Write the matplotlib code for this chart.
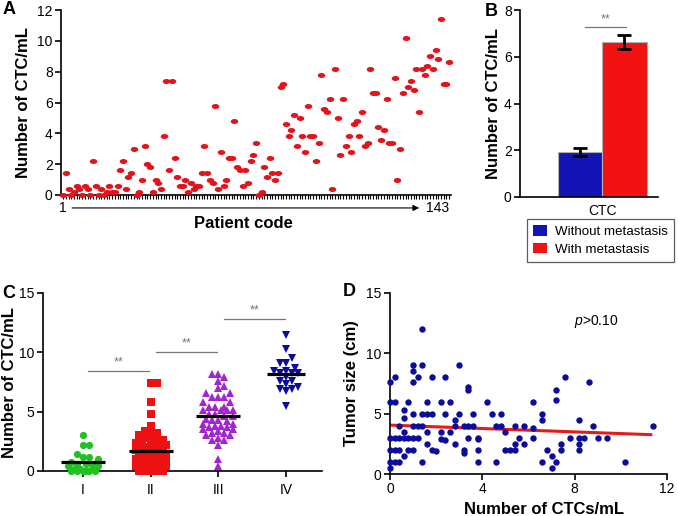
import numpy as np
import matplotlib
matplotlib.use('Agg')
import matplotlib.pyplot as plt
from matplotlib.path import Path
from matplotlib.transforms import Affine2D, blended_transform_factory
from matplotlib.patches import Patch

plt.rcParams['font.family'] = ['Liberation Sans', 'DejaVu Sans']
plt.rcParams['mathtext.fontset'] = 'custom'
plt.rcParams['mathtext.it'] = 'Liberation Sans:italic'
plt.rcParams['mathtext.rm'] = 'Liberation Sans'

# ---------------- data ----------------
# Panel A: CTC count per patient (patients 1..143)
ctc_by_patient = [
    0, 1.4, 0.4, 0, 0.2, 0.6, 0.4, 0, 0.6, 0.4,
    0, 2.2, 0.6, 0, 0.4, 0, 0.2, 0.6, 0.2, 0.2,
    0.6, 1.6, 2.2, 0.4, 1.2, 1.4, 3.0, 0, 0.2, 1.0,
    3.2, 2.0, 1.8, 0.2, 1.0, 0.8, 0.4, 3.8, 7.4, 1.6,
    7.4, 2.4, 1.2, 0.6, 0.6, 1.0, 0.2, 0.8, 0.4, 0.6,
    0.6, 1.4, 3.2, 1.4, 1.0, 0.8, 5.8, 0.4, 2.8, 0.6,
    1.0, 2.4, 2.4, 4.8, 1.8, 1.6, 0.6, 1.6, 0.8, 2.2,
    2.6, 3.4, 0, 0.2, 1.8, 1.2, 2.4, 1.4, 1.0, 1.4,
    7.0, 7.2, 4.6, 3.8, 4.2, 5.2, 3.2, 5.0, 3.8, 2.8,
    5.8, 3.8, 3.8, 2.2, 3.4, 7.8, 5.6, 5.4, 6.2, 0.4,
    8.2, 5.0, 2.6, 6.2, 3.2, 3.8, 2.8, 4.6, 4.8, 3.8,
    5.4, 3.2, 3.4, 8.2, 6.6, 6.6, 4.4, 3.6, 4.2, 6.2,
    3.4, 3.4, 7.6, 1.0, 3.0, 6.6, 10.2, 7.0, 7.4, 6.8,
    8.2, 5.4, 8.2, 7.8, 8.4, 9.0, 8.2, 9.4, 8.8, 11.4,
    7.2, 7.2, 8.6]
patient_first, patient_last = 1, 143

# Panel B
met_groups = ['Without metastasis', 'With metastasis']
met_mean = [1.93, 6.63]
met_sem = [0.17, 0.30]
met_category = 'CTC'

# Panel C
stage_labels = ['I', 'II', 'III', 'IV']
stage_I = [3.0, 2.2, 2.2, 1.4, 1.2, 1.2, 1.0, 0.8, 0.6, 0.6, 0.6,
           0.4, 0.4, 0.2, 0.2, 0.2, 0, 0, 0, 0, 0, 0]
stage_II = [7.4, 7.4, 5.8, 4.8, 3.8, 3.4, 3.2, 3.2, 3.0, 2.8, 2.6, 2.6, 2.6,
            2.4, 2.4, 2.2, 2.2, 2.0, 2.0, 1.8, 1.8, 1.6, 1.6, 1.6, 1.4, 1.4,
            1.4, 1.2, 1.2, 1.2, 1.0, 1.0, 1.0, 1.0, 0.8, 0.8, 0.8, 0.6, 0.6,
            0.6, 0.6, 0.4, 0.4, 0.4, 0.4, 0.2, 0.2, 0.2, 0.2, 0, 0, 0, 0, 0]
stage_III = [8.2, 8.2, 7.9, 7.6, 7.2, 7.0, 6.6, 6.6, 6.2, 6.2, 6.2, 5.8, 5.8,
             5.4, 5.4, 5.4, 5.1, 5.1, 5.1, 5.1, 4.8, 4.8, 4.6, 4.6, 4.4, 4.3,
             4.3, 4.2, 4.0, 4.0, 3.8, 3.8, 3.7, 3.7, 3.5, 3.5, 3.4, 3.2, 3.2,
             3.0, 3.0, 2.8, 2.6, 2.6, 2.2, 1.0, 0.4]
stage_IV = [11.5, 10.3, 9.5, 9.1, 9.1, 8.7, 8.4, 8.4, 8.3, 8.3, 8.3, 7.9,
            7.6, 7.6, 7.3, 7.1, 6.9, 6.9, 6.7, 5.5]
sig_pairs = [(1, 2, 8.4), (2, 3, 10.0), (3, 4, 12.8)]

# Panel D
ctc_d = [0, 0.2, 1.2, 1.8, 2.4, 0, 0.2, 0.8, 1.6, 2.2, 2.6, 4.2,
         1.0, 1.4, 3.0, 1.0, 1.0, 1.4, 3.4, 3.4, 0.6,
         1.0, 1.4, 1.6, 1.8, 2.4, 3.0, 3.6, 4.4, 4.8, 0.6, 2.8,
         1.0, 1.2, 1.4, 2.8, 3.2, 3.4, 3.6, 4.6, 4.8, 5.4, 5.8, 0.4,
         0.6, 1.6, 2.2, 2.6, 5.0,
         0, 0.2, 0.4, 0.6, 0.8, 1.0, 1.2, 3.4, 3.8, 5.6, 2.2, 3.8, 2.4,
         1.6, 2.8, 5.4, 5.8,
         0, 0.2, 0.4, 0.8, 1.0, 1.8, 3.2, 3.8, 5.0, 5.2, 5.4, 2.0, 3.2, 0.6,
         0, 0.2, 0.4, 1.4, 3.8, 4.6, 0,
         7.6, 8.6, 7.2, 7.2, 6.2, 6.6, 6.6, 8.2, 8.8, 11.4, 6.2, 6.2,
         7.8, 8.2, 8.4, 9.0, 9.4, 7.4, 8.2, 6.8, 7.4, 8.2, 7.0, 6.6, 7.2,
         10.2, 7.0]
size_d = [7.6, 8.0, 8.0, 8.0, 8.0, 6.0, 6.0, 6.0, 6.0, 6.0, 6.0, 6.0,
          9.0, 9.0, 9.0, 8.5, 7.6, 12.0, 7.2, 7.0, 5.3,
          5.0, 5.0, 5.0, 5.0, 5.0, 5.0, 5.0, 5.0, 5.0, 4.6, 4.5,
          4.0, 4.0, 4.0, 4.0, 4.0, 4.0, 4.0, 4.0, 4.0, 4.0, 4.0, 4.0,
          3.5, 3.5, 3.5, 3.5, 3.5,
          3.0, 3.0, 3.0, 3.0, 3.0, 3.0, 3.0, 3.0, 3.0, 3.0, 2.9, 2.9, 2.8,
          2.5, 2.5, 2.5, 2.5,
          2.0, 2.0, 2.0, 2.0, 2.0, 2.0, 2.0, 2.0, 2.0, 2.0, 2.0, 1.9, 1.7, 1.5,
          1.0, 1.0, 1.0, 1.0, 1.0, 1.0, 0.5,
          8.0, 7.6, 7.0, 6.1, 6.0, 5.0, 4.5, 4.5, 4.0, 4.0, 3.8, 3.0,
          3.0, 3.0, 3.0, 3.0, 3.0, 2.5, 2.5, 2.0, 2.0, 2.0, 1.5, 1.0, 1.0,
          1.0, 0.5]
fit_intercept, fit_slope = 4.05, -0.07
p_text = r'$p$>0.10'

# ---------------- style ----------------
RED_A = '#e3121b'
BLUE_B = '#1414b4'
RED_B = '#f21212'
C_COLORS = ['#22c022', '#ee1111', '#a424cf', '#0c0c9c']
C_MARKERS = ['o', 's', '^', 'v']
D_BLUE = '#0c0c9c'
D_LINE = '#e31b1b'
GRAY = '#777777'
TICK_FS = 10
LABEL_FS = 12
SPINE_LW = 1.2


def style_axes(ax):
    for s in ['top', 'right']:
        ax.spines[s].set_visible(False)
    for s in ['left', 'bottom']:
        ax.spines[s].set_linewidth(SPINE_LW)
    ax.tick_params(direction='out', length=4, width=SPINE_LW,
                   labelsize=TICK_FS, pad=2)


fig = plt.figure(figsize=(6.78, 5.16), dpi=100)

# ---------------- Panel A ----------------
axA = fig.add_axes([61 / 678, 1 - 195 / 516, 390 / 678, 185 / 516])
style_axes(axA)
patients = np.arange(patient_first, patient_last + 1)
ell = Path.unit_circle().transformed(Affine2D().scale(1.5, 1.0))
axA.plot(patients, ctc_by_patient, linestyle='none', marker=ell,
         markersize=5.4, color=RED_A, markeredgewidth=0, clip_on=False,
         zorder=3)
axA.set_xlim(0.2, 143.7)
axA.set_ylim(0, 12)
axA.set_yticks(np.arange(0, 13, 2))
axA.set_xticks(patients)
axA.tick_params(axis='x', length=3, width=0.8, labelbottom=False)
trA = blended_transform_factory(axA.transData, axA.transAxes)
axA.text(patient_first, -0.07, str(patient_first), transform=trA,
         ha='center', va='center', fontsize=TICK_FS)
axA.text(138.6, -0.07, str(patient_last), transform=trA,
         ha='center', va='center', fontsize=TICK_FS)
axA.annotate('', xy=(132.0, -0.07), xytext=(4.3, -0.07), xycoords=trA,
             textcoords=trA,
             arrowprops=dict(arrowstyle='-|>', lw=0.8, color='black',
                             mutation_scale=9, shrinkA=0, shrinkB=0))
axA.set_xlabel('Patient code', fontsize=LABEL_FS, fontweight='bold')
axA.xaxis.set_label_coords(0.467, -0.113)
axA.set_ylabel('Number of CTC/mL', fontsize=LABEL_FS, fontweight='bold')
axA.yaxis.set_label_coords(-0.077, 0.5)

# ---------------- Panel B ----------------
axB = fig.add_axes([520 / 678, 1 - 197 / 516, 138 / 678, 187 / 516])
style_axes(axB)
bx = [-0.5, 0.5]
axB.bar(bx, met_mean, width=1.0, color=[BLUE_B, RED_B], edgecolor='#b0b0b0',
        linewidth=0.8, yerr=met_sem, capsize=4.7,
        error_kw=dict(elinewidth=2, capthick=2, ecolor='black'), zorder=2)
axB.set_xlim(-1.848, 1.253)
axB.set_ylim(0, 8)
axB.set_yticks(np.arange(0, 9, 2))
axB.set_xticks([0])
axB.set_xticklabels([met_category])
axB.tick_params(axis='x', length=0, pad=5)
axB.plot([-0.39, 0.53], [7.27, 7.27], color=GRAY, lw=0.9)
axB.text(0.07, 7.33, '**', ha='center', va='bottom', fontsize=9, color=GRAY)
axB.set_ylabel('Number of CTC/mL', fontsize=LABEL_FS, fontweight='bold')
axB.yaxis.set_label_coords(-0.138, 0.5)

handles = [Patch(facecolor=BLUE_B, edgecolor='none'),
           Patch(facecolor=RED_B, edgecolor='none')]
leg = fig.legend(handles, met_groups, loc='upper left',
                 bbox_to_anchor=(527 / 678, 1 - 219 / 516), fontsize=9.6,
                 frameon=True, fancybox=False, edgecolor='#333333',
                 handlelength=1.05, handleheight=0.85, handletextpad=0.6,
                 borderpad=0.45, labelspacing=0.35, borderaxespad=0)
leg.get_frame().set_linewidth(0.9)

# ---------------- Panel C ----------------
axC = fig.add_axes([43 / 678, 1 - 471 / 516, 279 / 678, 178 / 516])
style_axes(axC)
axC.set_xlim(0.41, 4.53)
axC.set_ylim(0, 15)
axC.set_yticks([0, 5, 10, 15])
axC.set_xticks([1, 2, 3, 4])
axC.set_xticklabels(stage_labels)
axC.tick_params(axis='x', pad=5)
fig.canvas.draw()


def swarm_offsets(ax, xc, vals, d, maxhalf):
    """Beeswarm layout in pixel space, limited to a maximum half-width."""
    pts = ax.transData.transform(np.column_stack([np.full(len(vals), xc),
                                                  vals]))
    ys = pts[:, 1]
    x0 = pts[0, 0]
    order = np.argsort(ys, kind='stable')
    step = d * 0.5
    cands = [0.0]
    m = 1
    while m * step <= maxhalf + 1e-9:
        cands += [m * step, -m * step]
        m += 1
    placed = []
    xs = np.zeros(len(vals))
    for i in order:
        y = ys[i]
        best, best_score = None, -1.0
        for c in cands:
            dmin = min([np.hypot(c - px, y - py) for px, py in placed],
                       default=1e9)
            if dmin >= d:
                best = c
                break
            if dmin > best_score + 1e-6:
                best, best_score = c, dmin
        placed.append((best, y))
        xs[i] = best
    back = ax.transData.inverted().transform(np.column_stack([x0 + xs, ys]))
    ext = ax.transData.inverted().transform(
        [[x0 + xs.min() - 7.0, 0], [x0 + xs.max() + 7.0, 0]])
    return back[:, 0], ext[0, 0], ext[1, 0]


stage_data = [stage_I, stage_II, stage_III, stage_IV]
for k, vals in enumerate(stage_data):
    xc = k + 1
    xs, lo, hi = swarm_offsets(axC, xc, np.array(vals, float), 6.0, 17.0)
    axC.plot(xs, vals, linestyle='none', marker=C_MARKERS[k], markersize=5.2,
             color=C_COLORS[k], markeredgewidth=0, clip_on=False, zorder=3)
    axC.plot([lo, hi], [np.mean(vals)] * 2, color='black', lw=2.3, zorder=4,
             solid_capstyle='butt')
for a, b, h in sig_pairs:
    axC.plot([a + 0.08, b - 0.02], [h, h], color=GRAY, lw=0.9)
    axC.text((a + b) / 2 + 0.03, h + 0.25, '**', ha='center', va='bottom',
             fontsize=9, color=GRAY)
axC.set_ylabel('Number of CTC/mL', fontsize=LABEL_FS, fontweight='bold')
axC.yaxis.set_label_coords(-0.093, 0.5)

# ---------------- Panel D ----------------
axD = fig.add_axes([390 / 678, 1 - 474 / 516, 277 / 678, 181 / 516])
style_axes(axD)
axD.plot(ctc_d, size_d, linestyle='none', marker='o', markersize=4.6,
         color=D_BLUE, markeredgewidth=0, clip_on=False, zorder=3)
fx = np.array([min(ctc_d), max(ctc_d) - 0.1])
axD.plot(fx, fit_intercept + fit_slope * fx, color=D_LINE, lw=2.2, zorder=2)
axD.set_xlim(0, 12)
axD.set_ylim(0, 15)
axD.set_xticks([0, 4, 8, 12])
axD.set_yticks([0, 5, 10, 15])
axD.text(8.95, 12.6, p_text, ha='center', va='center', fontsize=10)
axD.set_xlabel('Number of CTCs/mL', fontsize=LABEL_FS, fontweight='bold')
axD.xaxis.set_label_coords(0.556, -0.155)
axD.set_ylabel('Tumor size (cm)', fontsize=LABEL_FS, fontweight='bold')
axD.yaxis.set_label_coords(-0.112, 0.5)

# ---------------- panel letters ----------------
for letter, x, y in [('A', 3, 1), ('B', 485, 3), ('C', 2, 285), ('D', 343, 283)]:
    fig.text(x / 678, 1 - y / 516, letter, fontsize=13, fontweight='bold',
             ha='left', va='top')

fig.savefig('out.png', dpi=100)
